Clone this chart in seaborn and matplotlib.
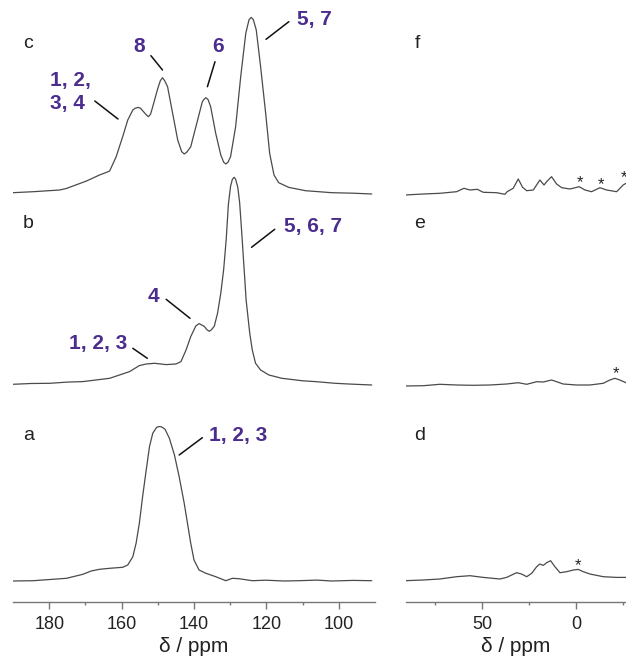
import matplotlib
matplotlib.use("Agg")
import matplotlib.pyplot as plt
import seaborn as sns
import numpy as np

# ---------------- data ----------------
# left panel spectra: chemical shift (ppm) and intensity (arb. units)
ppm_a = [190.1, 184.4, 175.2, 170.7, 168.4, 166.1, 163.3, 159.7, 158.3, 156.9, 156.0,
         155.1, 154.2, 153.2, 152.3, 151.4, 150.3, 149.7, 149.1, 148.6, 148.0, 146.8,
         145.4, 144.1, 142.7, 141.8, 140.9, 140.0, 138.6, 136.7, 134.0, 131.2, 129.4,
         127.6, 123.9, 120.2, 115.0, 111.1, 106.0, 101.9, 96.0, 90.9]
int_a = [0.0, 0.3, 2.7, 6.7, 10.0, 11.7, 12.7, 13.7, 16.0, 24.3, 37.7,
         57.7, 84.3, 111.0, 134.3, 147.7, 153.7, 154.4, 154.3, 153.3, 151.7, 142.7,
         126.0, 104.3, 77.7, 57.7, 37.7, 21.0, 11.0, 7.7, 4.3, 0.3, 2.7,
         2.3, 0.3, 0.8, 0.0, 0.3, 0.9, 0.0, 0.6, 0.3]

ppm_b = [190.1, 185.0, 179.8, 175.0, 170.7, 163.3, 157.8, 155.1, 153.2, 150.9, 147.7,
         145.0, 143.6, 142.2, 140.9, 139.5, 138.6, 137.2, 136.4, 135.8, 135.2, 134.4,
         133.5, 132.6, 131.8, 131.1, 130.5, 129.9, 129.4, 128.9, 128.5, 127.9, 127.4,
         126.8, 126.2, 125.6, 124.6, 123.9, 123.0, 121.6, 119.3, 115.7, 110.0, 106.5,
         101.0, 97.3, 90.9]
int_b = [0.0, 0.8, 1.0, 2.2, 2.7, 6.0, 12.7, 18.7, 20.3, 21.0, 19.7,
         20.3, 22.7, 34.3, 47.7, 58.3, 60.7, 58.0, 54.5, 53.0, 54.5, 58.0,
         71.0, 91.0, 115.0, 145.0, 180.0, 198.0, 205.0, 207.0, 205.0, 197.0, 182.0,
         151.0, 117.7, 84.3, 51.0, 34.3, 21.0, 14.3, 9.3, 6.0, 3.5, 2.7,
         1.0, 0.3, -0.7]

ppm_c = [190.1, 184.4, 177.1, 175.2, 169.7, 166.1, 164.2, 163.3, 161.5, 159.7, 158.3,
         156.9, 156.2, 155.5, 154.8, 154.2, 153.2, 152.6, 152.0, 151.4, 150.0, 149.3,
         148.7, 148.1, 147.3, 145.9, 144.5, 143.4, 142.7, 142.0, 140.9, 139.0, 137.7,
         137.2, 136.7, 136.1, 135.4, 134.0, 132.6, 131.8, 131.2, 130.6, 129.9, 128.5,
         127.1, 125.7, 124.8, 124.2, 123.6, 122.8, 121.6, 120.2, 119.1, 117.9, 116.6,
         113.8, 109.2, 101.9, 96.0, 90.9]
int_c = [0.0, 1.0, 2.7, 4.3, 11.7, 17.7, 20.3, 21.7, 36.0, 56.0, 72.7,
         82.7, 84.5, 85.3, 84.5, 82.0, 78.0, 76.0, 78.5, 86.0, 104.3, 112.0,
         115.0, 112.0, 106.0, 79.3, 52.7, 41.0, 38.7, 40.5, 46.0, 72.7, 91.0,
         93.5, 95.0, 93.0, 86.0, 59.3, 37.7, 30.5, 28.7, 30.5, 36.0, 66.0,
         116.0, 159.3, 173.0, 175.3, 173.0, 162.7, 126.0, 79.3, 39.3, 17.7, 10.0,
         5.3, 2.0, 0.0, -0.5, -1.3]

# right panel spectra
ppm_d = [91.0, 81.2, 72.4, 63.5, 56.4, 49.3, 40.5, 36.9, 31.6, 29.0, 26.2, 23.6, 20.9,
         19.2, 17.4, 15.6, 13.5, 11.2, 8.5, 5.0, 1.4, -1.2, -3.9, -7.4, -14.5, -21.6, -26.6]
int_d = [0.0, 0.7, 1.7, 4.0, 5.0, 3.3, 1.7, 3.3, 8.0, 6.7, 4.0, 7.3, 14.0,
         16.7, 15.3, 18.0, 20.0, 14.0, 8.0, 9.0, 10.7, 11.3, 9.0, 6.7, 4.0, 3.3, 3.3]

ppm_e = [91.0, 81.2, 72.4, 63.5, 54.7, 45.8, 36.9, 30.7, 26.2, 20.9, 17.4, 13.0, 10.3,
         6.8, -0.3, -7.4, -14.5, -18.0, -20.7, -23.3, -26.6]
int_e = [0.0, 0.3, 1.7, 1.0, 0.7, 1.0, 2.0, 3.3, 1.7, 4.3, 4.0, 6.0, 4.3,
         2.0, 1.0, 1.0, 2.7, 6.0, 7.7, 6.0, 3.3]

ppm_f = [91.0, 81.2, 72.4, 63.5, 59.6, 56.4, 52.5, 49.3, 42.2, 37.8, 36.6, 33.4, 30.7,
         28.4, 26.2, 22.7, 19.2, 17.0, 15.6, 13.0, 10.3, 7.6, 3.2, -1.7, -4.8, -8.3,
         -12.7, -16.3, -21.6, -25.1, -26.6]
int_f = [0.0, 1.0, 1.7, 3.3, 6.7, 5.0, 5.7, 2.7, 2.3, 0.7, 3.3, 6.7, 16.0,
         7.7, 4.3, 5.0, 15.0, 10.0, 13.3, 18.3, 11.0, 7.3, 6.0, 8.3, 5.0, 3.3,
         7.3, 5.0, 3.3, 10.0, 11.7]

panel_letters_left = ["a", "b", "c"]
panel_letters_right = ["d", "e", "f"]
left_ticks = [180, 160, 140, 120, 100]
right_ticks = [50, 0]
xlabel = "δ / ppm"

# ---------------- style ----------------
sns.set_style("white")
plt.rcParams["font.family"] = ["Liberation Sans", "DejaVu Sans"]

W, H = 626, 660
fig = plt.figure(figsize=(W / 100, H / 100), dpi=100)
bottom_px = 602
axL = fig.add_axes([13 / W, (H - bottom_px) / H, (375 - 13) / W, bottom_px / H])
axR = fig.add_axes([406 / W, (H - bottom_px) / H, (626 - 406) / W, bottom_px / H])

line_col = "#4a4a4a"
purple = "#4b2d8e"
spine_col = "#777777"

offsets_left = [21.0, 217.7, 409.3]
offsets_right = [21.3, 216.0, 407.0]

for ppm, inten, off in zip([ppm_a, ppm_b, ppm_c], [int_a, int_b, int_c], offsets_left):
    sns.lineplot(x=ppm, y=np.array(inten) + off, ax=axL, color=line_col,
                 linewidth=0.9, sort=False, estimator=None)
for ppm, inten, off in zip([ppm_d, ppm_e, ppm_f], [int_d, int_e, int_f], offsets_right):
    sns.lineplot(x=ppm, y=np.array(inten) + off, ax=axR, color=line_col,
                 linewidth=0.9, sort=False, estimator=None)

axL.set_xlim(190, 90)
axR.set_xlim(90.4, -26.6)
for ax in (axL, axR):
    ax.set_ylim(0, bottom_px)
    ax.set_yticks([])
    ax.set_ylabel("")
    for s in ("left", "right", "top"):
        ax.spines[s].set_visible(False)
    ax.spines["bottom"].set_color(spine_col)
    ax.spines["bottom"].set_linewidth(1.0)
    ax.tick_params(axis="x", which="both", bottom=True)
    ax.tick_params(axis="x", which="major", direction="out", length=5, width=1.0,
                   color=spine_col, labelsize=13, pad=5, labelcolor="#222222")
    ax.tick_params(axis="x", which="minor", direction="out", length=2.5, width=1.0,
                   color=spine_col)
    ax.set_xlabel(xlabel, fontsize=15, labelpad=3, color="#222222")
    ax.patch.set_alpha(0)

axL.set_xticks(left_ticks)
axL.set_xticks([170, 150, 130, 110], minor=True)
axR.set_xticks(right_ticks)
axR.set_xticks([75, 25, -25], minor=True)

# panel letters
for ax, letters, xs in ((axL, panel_letters_left, 187.3), (axR, panel_letters_right, 85.9)):
    for letter, y in zip(letters, [166, 378, 558]):
        ax.text(xs, y, letter, fontsize=14, color="#222222", ha="left", va="center")

# peak assignments
lab_kw = dict(fontsize=15, fontweight="bold", color=purple, va="center")
axL.text(179.8, 510, "1, 2,\n3, 4", ha="left", linespacing=1.3, **lab_kw)
axL.plot([167.4, 161.0], [501, 483], color="#111111", lw=1.1)
axL.text(155.1, 556, "8", ha="center", **lab_kw)
axL.plot([151.9, 148.7], [546.3, 532], color="#111111", lw=1.1)
axL.text(133.3, 556, "6", ha="center", **lab_kw)
axL.plot([134.2, 136.3], [540.3, 515.3], color="#111111", lw=1.1)
axL.text(106.7, 582.5, "5, 7", ha="center", **lab_kw)
axL.plot([113.8, 120.1], [580.3, 562.7], color="#111111", lw=1.1)

axL.text(107.2, 375.5, "5, 6, 7", ha="center", **lab_kw)
axL.plot([117.7, 124.1], [372.7, 354.7], color="#111111", lw=1.1)
axL.text(151.2, 306, "4", ha="center", **lab_kw)
axL.plot([147.7, 141.1], [302.7, 283.7], color="#111111", lw=1.1)
axL.text(166.6, 259, "1, 2, 3", ha="center", **lab_kw)
axL.plot([156.9, 152.9], [253.7, 243.7], color="#111111", lw=1.1)

axL.text(127.8, 167, "1, 2, 3", ha="center", **lab_kw)
axL.plot([137.7, 144.1], [164.3, 147], color="#111111", lw=1.1)

# spinning side-band asterisks
for x, y in [(-2.1, 419), (-13.1, 417.5), (-25.5, 424), (-21.1, 228.5), (-1.2, 36.5)]:
    axR.text(x, y, "*", fontsize=12, color="#222222", ha="center", va="center",
             clip_on=False)

fig.savefig("out.png", dpi=100)
